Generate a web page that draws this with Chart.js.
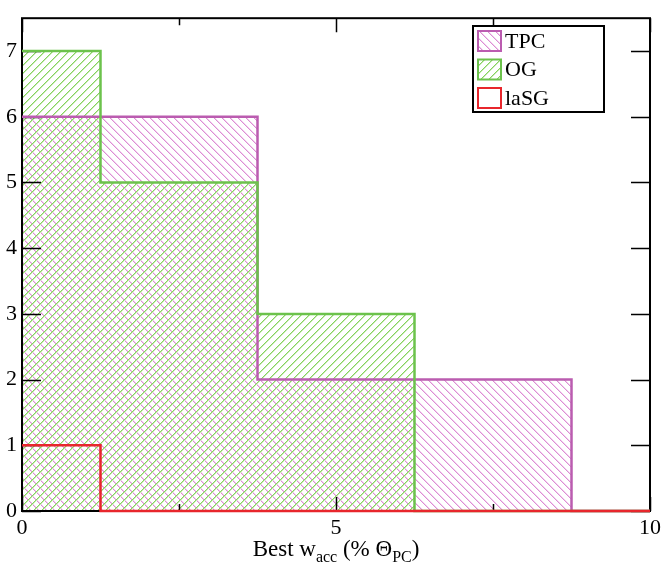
<!DOCTYPE html>
<html>
<head>
<meta charset="utf-8">
<script src="https://cdn.jsdelivr.net/npm/chart.js@4/dist/chart.umd.min.js"></script>
<style>
  html, body { margin: 0; padding: 0; background: #fff; }
</style>
</head>
<body>
<canvas id="c" width="665" height="566"></canvas>
<script>
// Histogram of the best accretion weight, three samples
const binEdges   = [0, 1.25, 3.75, 6.25, 8.75, 10];
const tpcCounts  = [6, 6, 2, 2, 0];
const ogCounts   = [7, 5, 3, 0, 0];
const lasgCounts = [1, 0, 0, 0, 0];
const seriesNames = ['TPC', 'OG', 'laSG'];
const xMajorTicks = [0, 5, 10];
const xMinorTicks = [2.5, 7.5];
const yTicks = [0, 1, 2, 3, 4, 5, 6, 7];

const FONT = '"Liberation Serif", "Times New Roman", serif';
const colTPC = '#bb5cb0';
const colOG = '#6cc24c';
const colLaSG = '#e8262c';

// diagonal hatch tile, a core pixel plus a softer neighbour per step:
// dir > 0 draws '/', otherwise '\'
function hatch(core, soft, dir) {
  const s = 8;
  const c = document.createElement('canvas');
  c.width = s; c.height = s;
  const g = c.getContext('2d');
  for (let i = 0; i < s; i++) {
    const y = dir > 0 ? s - 1 - i : i;
    g.fillStyle = soft;
    g.fillRect((i + 1) % s, y, 1, 1);
    g.fillStyle = core;
    g.fillRect(i, y, 1, 1);
  }
  return g.createPattern(c, 'repeat');
}

const patTPC = hatch('#dc8ed4', '#f2d0ee', -1);
const patOG = hatch('#86d25e', '#c6ebb2', 1);

// step points: each count holds from its left edge to the next edge
function stepPoints(counts) {
  return binEdges.map((x, i) => ({ x: x, y: counts[Math.min(i, counts.length - 1)] }));
}

// frame and inward ticks go between the hatched fills and the outlines
const frameTicks = {
  id: 'frameTicks',
  beforeDatasetsDraw(chart) {
    const { ctx, chartArea: a, scales } = chart;
    ctx.save();
    ctx.strokeStyle = '#000';
    ctx.lineWidth = 1.5;
    ctx.beginPath();
    yTicks.forEach(v => {
      const y = Math.round(scales.y.getPixelForValue(v)) + 0.5;
      ctx.moveTo(a.left, y); ctx.lineTo(a.left + 19, y);
      ctx.moveTo(a.right, y); ctx.lineTo(a.right - 19, y);
    });
    xMajorTicks.forEach(v => {
      const x = Math.round(scales.x.getPixelForValue(v)) + 0.5;
      ctx.moveTo(x, a.bottom); ctx.lineTo(x, a.bottom - 14);
      ctx.moveTo(x, a.top); ctx.lineTo(x, a.top + 14);
    });
    xMinorTicks.forEach(v => {
      const x = Math.round(scales.x.getPixelForValue(v)) + 0.5;
      ctx.moveTo(x, a.bottom); ctx.lineTo(x, a.bottom - 7);
      ctx.moveTo(x, a.top); ctx.lineTo(x, a.top + 7);
    });
    ctx.stroke();
    ctx.lineWidth = 2;
    ctx.strokeRect(a.left, a.top, a.right - a.left, a.bottom - a.top);
    ctx.restore();
  },
  afterDraw(chart) {
    const { ctx, chartArea: a } = chart;
    ctx.save();
    // legend box
    const bx = 473, by = 26, bw = 131, bh = 86;
    ctx.fillStyle = '#fff';
    ctx.fillRect(bx, by, bw, bh);
    ctx.strokeStyle = '#000';
    ctx.lineWidth = 2;
    ctx.strokeRect(bx, by, bw, bh);
    const fills = [patTPC, patOG, null];
    const borders = [colTPC, colOG, colLaSG];
    ctx.font = '22px ' + FONT;
    ctx.textBaseline = 'middle';
    seriesNames.forEach((name, i) => {
      const sy = by + 5 + i * 28.5;
      if (fills[i]) { ctx.fillStyle = fills[i]; ctx.fillRect(bx + 5, sy, 23, 20); }
      ctx.strokeStyle = borders[i];
      ctx.lineWidth = 2;
      ctx.strokeRect(bx + 5, sy, 23, 20);
      ctx.fillStyle = '#000';
      ctx.textAlign = 'left';
      ctx.fillText(name, bx + 32, sy + 11);
    });
    // axis title with subscripts
    const parts = [
      ['Best w', 23, 0], ['acc', 16, 6], [' (% \u0398', 23, 0], ['PC', 16, 6], [')', 23, 0]
    ];
    let total = 0;
    parts.forEach(p => { ctx.font = p[1] + 'px ' + FONT; total += ctx.measureText(p[0]).width; });
    let x = (a.left + a.right) / 2 - total / 2;
    const base = 556;
    ctx.textBaseline = 'alphabetic';
    ctx.fillStyle = '#000';
    parts.forEach(p => {
      ctx.font = p[1] + 'px ' + FONT;
      ctx.fillText(p[0], x, base + p[2]);
      x += ctx.measureText(p[0]).width;
    });
    ctx.restore();
  }
};

new Chart(document.getElementById('c'), {
  type: 'line',
  data: {
    datasets: [
      { label: seriesNames[0], data: stepPoints(tpcCounts), stepped: 'before', borderColor: colTPC,
        backgroundColor: patTPC, fill: 'origin', borderWidth: 2.5, pointRadius: 0, order: 2, clip: false },
      { label: seriesNames[1], data: stepPoints(ogCounts), stepped: 'before', borderColor: colOG,
        backgroundColor: patOG, fill: 'origin', borderWidth: 2.5, pointRadius: 0, order: 1, clip: false },
      { label: seriesNames[2], data: stepPoints(lasgCounts), stepped: 'before', borderColor: colLaSG,
        backgroundColor: 'transparent', fill: false, borderWidth: 2.5, pointRadius: 0, order: 0, clip: false }
    ]
  },
  options: {
    responsive: false,
    devicePixelRatio: 1,
    animation: false,
    layout: { padding: { top: 8, right: 14, left: 0, bottom: 0 } },
    plugins: {
      legend: { display: false },
      tooltip: { enabled: false },
      filler: { drawTime: 'beforeDatasetsDraw' }
    },
    scales: {
      x: {
        type: 'linear', min: 0, max: 10,
        grid: { display: false, drawTicks: false }, border: { display: false },
        ticks: { stepSize: 5, color: '#000', font: { family: FONT, size: 22 }, padding: 4, maxRotation: 0 },
        afterFit(s) { s.height = 55; }
      },
      y: {
        type: 'linear', min: 0, max: 7.5,
        grid: { display: false, drawTicks: false }, border: { display: false },
        ticks: { stepSize: 1, includeBounds: false, color: '#000', font: { family: FONT, size: 22 }, padding: 5 },
        afterFit(s) { s.width = 22; }
      }
    }
  },
  plugins: [frameTicks]
});
</script>
</body>
</html>
